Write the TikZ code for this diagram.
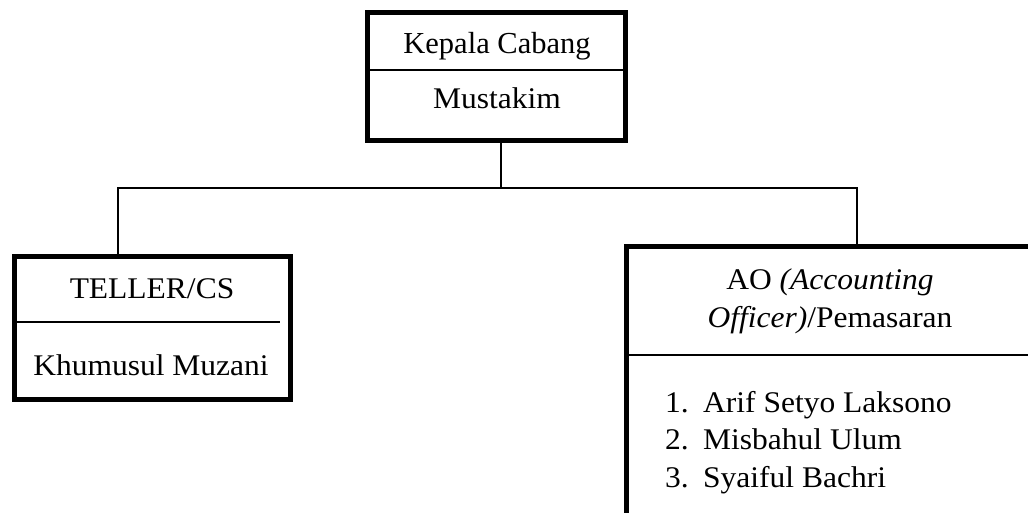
\documentclass[tikz,border=0pt]{standalone}
\usepackage{fontspec}
\setmainfont{Liberation Serif}
\newfontfamily\widefont[FakeStretch=1.05]{Liberation Serif}
\begin{document}
\begin{tikzpicture}[x=1pt,y=-1pt,
  box/.style={draw=black,line width=5pt,rectangle,inner sep=0pt,outer sep=0pt},
  link/.style={draw=black,line width=1.7pt},
  txt/.style={anchor=base,inner sep=0pt,font=\widefont\fontsize{30}{36}\selectfont},
  ltxt/.style={anchor=base west,inner sep=0pt,font=\widefont\fontsize{30}{36}\selectfont}]
\useasboundingbox (0,0) rectangle (1028,512);
\clip (0,0) rectangle (1028,512);
% boxes
\node[box,minimum width=258pt,minimum height=128pt] (top) at (496,76) {};
\node[box,minimum width=276pt,minimum height=143pt] (left) at (152,327.5) {};
\node[box,minimum width=434pt,minimum height=314pt] (right) at (843,403) {};
% dividers
\draw[link] (top.west |- 0,70) -- (top.east |- 0,70);
\draw[link] (left.west |- 0,322) -- (280,322);
\draw[link] (right.west |- 0,355) -- (right.east |- 0,355);
% connectors
\coordinate (j) at (501,188);
\coordinate (jl) at (118,188);
\coordinate (jr) at (857,188);
\draw[link] (top.south -| j) -- (j);
\draw[link] (left.north -| jl) -- (jl) -- (jr) -- (right.north -| jr);
% texts
\node[txt,font=\rmfamily\fontsize{30.5}{36}\selectfont] (t1) at (497,53) {Kepala Cabang};
\node[txt] (t2) at (497,108) {Mustakim};
\node[txt] (t3) at (152,298) {TELLER/CS};
\node[txt] (t4) at (151,375) {Khumusul Muzani};
\node[txt] (t5) at (830,289) {AO \textit{(Accounting}};
\node[txt] (t6) at (830,327) {\textit{Officer)}/Pemasaran};
\node[ltxt] (n1) at (665,412) {1.};
\node[ltxt] (a1) at (703,412) {Arif Setyo Laksono};
\node[ltxt] (n2) at (665,449) {2.};
\node[ltxt] (a2) at (703,449) {Misbahul Ulum};
\node[ltxt] (n3) at (665,487) {3.};
\node[ltxt] (a3) at (703,487) {Syaiful Bachri};
\end{tikzpicture}
\end{document}
